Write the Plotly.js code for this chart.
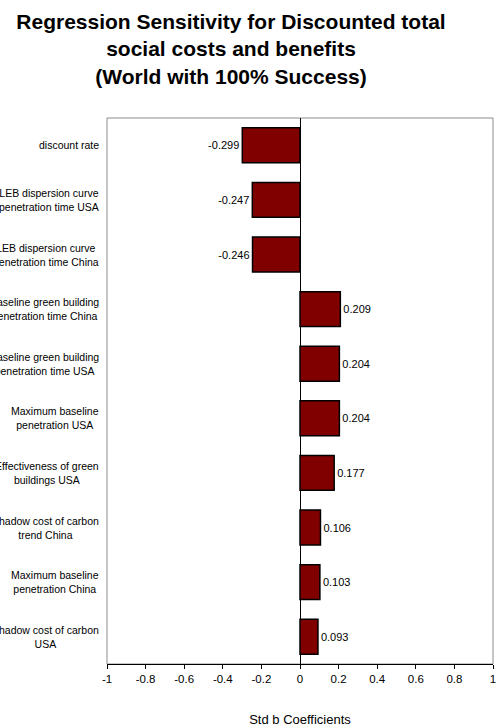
<!DOCTYPE html>
<html>
<head>
<meta charset="utf-8">
<script src="https://cdn.plot.ly/plotly-3.0.1.min.js"></script>
<style>
  html, body { margin: 0; padding: 0; background: #fff; }
  #chart { width: 496px; height: 727px; }
</style>
</head>
<body>
<div id="chart"></div>
<script>
// Regression inputs, top to bottom
const factors = [
  "discount rate",
  "LEB dispersion curve<br>penetration time USA",
  "LEB dispersion curve<br>penetration time China",
  "Baseline green building<br>penetration time China",
  "Baseline green building<br>penetration time USA",
  "Maximum baseline<br>penetration USA",
  "Effectiveness of green<br>buildings USA",
  "Shadow cost of carbon<br>trend China",
  "Maximum baseline<br>penetration China",
  "Shadow cost of carbon<br>USA"
];

// Standardised b coefficients
const stdB = [-0.299, -0.247, -0.246, 0.209, 0.204, 0.204, 0.177, 0.106, 0.103, 0.093];

const tickVals = [-1, -0.8, -0.6, -0.4, -0.2, 0, 0.2, 0.4, 0.6, 0.8, 1];

const FONT = "Liberation Sans, Arial, sans-serif";

const trace = {
  type: "bar",
  orientation: "h",
  x: stdB,
  y: factors,
  marker: { color: "#800000", line: { color: "#000000", width: 1.5 } },
  text: stdB.map(v => v.toFixed(3)),
  textposition: "outside",
  cliponaxis: false,
  textfont: { family: FONT, size: 11, color: "#000" },
  hoverinfo: "none"
};

// Category labels: centred lines, right-aligned against the plot frame
const labelNotes = factors.map(f => ({
  text: f,
  xref: "paper", yref: "y",
  x: 0, y: f,
  xanchor: "right", yanchor: "middle",
  xshift: -6,
  align: "center",
  showarrow: false,
  font: { family: FONT, size: 10.5, color: "#000" }
}));

const layout = {
  width: 496,
  height: 727,
  margin: { l: 107, r: 3, t: 118, b: 63 },
  paper_bgcolor: "#fff",
  plot_bgcolor: "#fff",
  showlegend: false,
  bargap: 0.36,
  title: {
    text: "Regression Sensitivity for Discounted total<br>social costs and benefits<br>(World with 100% Success)",
    font: { family: FONT, size: 21, color: "#000", weight: "bold" },
    xref: "container", yref: "container",
    x: 231 / 496, xanchor: "center",
    y: 1 - 29 / 727, yanchor: "top"
  },
  xaxis: {
    range: [-1, 1],
    tickvals: tickVals,
    ticktext: tickVals.map(v => String(v)),
    ticklabeloverflow: "allow",
    showgrid: false,
    zeroline: true,
    zerolinecolor: "#000",
    zerolinewidth: 1,
    showline: true,
    linecolor: "#000",
    linewidth: 1,
    ticks: "outside",
    ticklen: 4,
    tickcolor: "#000",
    tickfont: { family: FONT, size: 11.5, color: "#000" },
    title: {
      text: "Std b Coefficients",
      font: { family: FONT, size: 13, color: "#000" },
      standoff: 31
    },
    automargin: false,
    fixedrange: true
  },
  yaxis: {
    type: "category",
    autorange: "reversed",
    showticklabels: false,
    showgrid: false,
    zeroline: false,
    showline: false,
    ticks: "",
    automargin: false,
    fixedrange: true
  },
  shapes: [{
    type: "rect", xref: "paper", yref: "paper",
    x0: 0, x1: 1, y0: 0, y1: 1,
    line: { color: "#8c8c8c", width: 1 },
    layer: "below"
  }],
  annotations: labelNotes
};

Plotly.newPlot("chart", [trace], layout, { displayModeBar: false, staticPlot: true });
</script>
</body>
</html>
